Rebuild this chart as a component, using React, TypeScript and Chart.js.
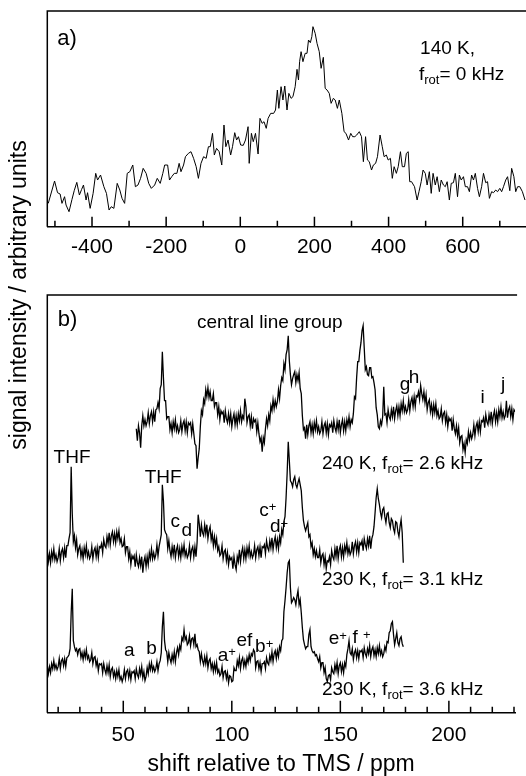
import React, { useEffect, useRef } from 'react';
import { Chart, registerables } from 'chart.js';

Chart.register(...registerables);

// ---------- panel a : 140 K, static ----------
const shiftA = [
  -518, -501, -493, -486, -481, -474, -470, -462, -454, -448,
  -441, -434, -428, -423, -416, -412, -405, -397, -390, -385,
  -377, -368, -361, -354, -348, -341, -332, -325, -319, -312,
  -305, -298, -290, -283, -276, -269, -262, -254, -247, -240,
  -231, -224, -216, -209, -204, -196, -191, -185, -178, -171,
  -165, -160, -153, -148, -140, -133, -126, -119, -113, -106,
  -99, -92, -86, -81, -75, -70, -64, -57, -50, -44,
  -39, -33, -26, -21, -15, -10, -5, 1, 8, 14,
  21, 24, 30, 35, 41, 48, 53, 59, 64, 70,
  75, 82, 90, 95, 100, 104, 110, 115, 120, 126,
  131, 137, 142, 148, 153, 157, 160, 164, 169, 175,
  180, 184, 189, 193, 196, 202, 207, 213, 218, 224,
  229, 234, 240, 245, 251, 256, 262, 267, 274, 280,
  285, 292, 298, 303, 309, 314, 321, 327, 332, 338,
  343, 348, 354, 359, 365, 370, 377, 383, 388, 394,
  399, 405, 410, 415, 421, 426, 432, 437, 443, 448,
  453, 457, 462, 470, 477, 482, 488, 493, 499, 504,
  510, 515, 520, 526, 531, 537, 542, 548, 553, 558,
  564, 569, 575, 580, 586, 591, 596, 602, 607, 613,
  618, 624, 629, 634, 640, 645, 651, 656, 662, 667,
  672, 678, 683, 689, 694, 700, 705, 710, 716, 721,
  727, 732, 738, 743, 748, 754, 761, 768,
];
const intensityA = [
  70, 137, 102, 98, 70, 90, 65, 45, 82, 108,
  133, 95, 112, 125, 80, 102, 55, 100, 160, 140,
  155, 120, 100, 50, 60, 55, 130, 110, 85, 70,
  160, 165, 185, 120, 125, 145, 175, 160, 130, 115,
  125, 145, 130, 160, 185, 185, 140, 150, 160, 160,
  190, 165, 185, 210, 220, 225, 205, 180, 145, 190,
  210, 205, 240, 240, 280, 215, 235, 225, 185, 305,
  240, 260, 215, 240, 282, 260, 270, 245, 244, 260,
  300, 190, 280, 255, 280, 218, 325, 310, 315, 295,
  325, 340, 340, 350, 410, 355, 420, 380, 422, 350,
  400, 385, 390, 420, 472, 440, 495, 525, 495, 520,
  520, 560, 552, 570, 600, 580, 550, 525, 475, 508,
  415, 410, 400, 370, 385, 380, 355, 380, 340, 285,
  280, 260, 280, 270, 270, 275, 285, 270, 195, 270,
  200, 195, 170, 185, 190, 210, 275, 240, 210, 215,
  200, 205, 145, 180, 160, 180, 225, 180, 180, 220,
  225, 135, 135, 120, 80, 105, 135, 170, 160, 125,
  165, 100, 160, 125, 150, 105, 140, 125, 120, 135,
  80, 130, 132, 160, 90, 155, 140, 150, 120, 120,
  105, 155, 140, 160, 115, 90, 120, 160, 132, 135,
  85, 105, 102, 110, 105, 115, 105, 120, 140, 150,
  108, 175, 150, 105, 120, 120, 105, 80,
];
const ticksA = [-500, -400, -300, -200, -100, 0, 100, 200, 300, 400, 500, 600, 700];
const labelsA = [-400, -200, 0, 200, 400, 600];

// ---------- panel b : MAS spectra (0.5 ppm sampling) ----------
const shiftB = [
  15, 15.5, 16, 16.5, 17, 17.5, 18, 18.5, 19, 19.5,
  20, 20.5, 21, 21.5, 22, 22.5, 23, 23.5, 24, 24.5,
  25, 25.5, 26, 26.5, 27, 27.5, 28, 28.5, 29, 29.5,
  30, 30.5, 31, 31.5, 32, 32.5, 33, 33.5, 34, 34.5,
  35, 35.5, 36, 36.5, 37, 37.5, 38, 38.5, 39, 39.5,
  40, 40.5, 41, 41.5, 42, 42.5, 43, 43.5, 44, 44.5,
  45, 45.5, 46, 46.5, 47, 47.5, 48, 48.5, 49, 49.5,
  50, 50.5, 51, 51.5, 52, 52.5, 53, 53.5, 54, 54.5,
  55, 55.5, 56, 56.5, 57, 57.5, 58, 58.5, 59, 59.5,
  60, 60.5, 61, 61.5, 62, 62.5, 63, 63.5, 64, 64.5,
  65, 65.5, 66, 66.5, 67, 67.5, 68, 68.5, 69, 69.5,
  70, 70.5, 71, 71.5, 72, 72.5, 73, 73.5, 74, 74.5,
  75, 75.5, 76, 76.5, 77, 77.5, 78, 78.5, 79, 79.5,
  80, 80.5, 81, 81.5, 82, 82.5, 83, 83.5, 84, 84.5,
  85, 85.5, 86, 86.5, 87, 87.5, 88, 88.5, 89, 89.5,
  90, 90.5, 91, 91.5, 92, 92.5, 93, 93.5, 94, 94.5,
  95, 95.5, 96, 96.5, 97, 97.5, 98, 98.5, 99, 99.5,
  100, 100.5, 101, 101.5, 102, 102.5, 103, 103.5, 104, 104.5,
  105, 105.5, 106, 106.5, 107, 107.5, 108, 108.5, 109, 109.5,
  110, 110.5, 111, 111.5, 112, 112.5, 113, 113.5, 114, 114.5,
  115, 115.5, 116, 116.5, 117, 117.5, 118, 118.5, 119, 119.5,
  120, 120.5, 121, 121.5, 122, 122.5, 123, 123.5, 124, 124.5,
  125, 125.5, 126, 126.5, 127, 127.5, 128, 128.5, 129, 129.5,
  130, 130.5, 131, 131.5, 132, 132.5, 133, 133.5, 134, 134.5,
  135, 135.5, 136, 136.5, 137, 137.5, 138, 138.5, 139, 139.5,
  140, 140.5, 141, 141.5, 142, 142.5, 143, 143.5, 144, 144.5,
  145, 145.5, 146, 146.5, 147, 147.5, 148, 148.5, 149, 149.5,
  150, 150.5, 151, 151.5, 152, 152.5, 153, 153.5, 154, 154.5,
  155, 155.5, 156, 156.5, 157, 157.5, 158, 158.5, 159, 159.5,
  160, 160.5, 161, 161.5, 162, 162.5, 163, 163.5, 164, 164.5,
  165, 165.5, 166, 166.5, 167, 167.5, 168, 168.5, 169, 169.5,
  170, 170.5, 171, 171.5, 172, 172.5, 173, 173.5, 174, 174.5,
  175, 175.5, 176, 176.5, 177, 177.5, 178, 178.5, 179, 179.5,
  180, 180.5, 181, 181.5, 182, 182.5, 183, 183.5, 184, 184.5,
  185, 185.5, 186, 186.5, 187, 187.5, 188, 188.5, 189, 189.5,
  190, 190.5, 191, 191.5, 192, 192.5, 193, 193.5, 194, 194.5,
  195, 195.5, 196, 196.5, 197, 197.5, 198, 198.5, 199, 199.5,
  200, 200.5, 201, 201.5, 202, 202.5, 203, 203.5, 204, 204.5,
  205, 205.5, 206, 206.5, 207, 207.5, 208, 208.5, 209, 209.5,
  210, 210.5, 211, 211.5, 212, 212.5, 213, 213.5, 214, 214.5,
  215, 215.5, 216, 216.5, 217, 217.5, 218, 218.5, 219, 219.5,
  220, 220.5, 221, 221.5, 222, 222.5, 223, 223.5, 224, 224.5,
  225, 225.5, 226, 226.5, 227, 227.5, 228, 228.5, 229, 229.5,
  230, 230.5, 231,
];
const startTop = 56; // first shift of the 240 K trace; the 230 K traces start at 15
const trace240K = [
  284, 272, 287, 280, 265, 287, 297, 287, 293, 287,
  291, 300, 289, 297, 301, 291, 301, 291, 303, 304,
  310, 304, 324, 328, 361, 335, 312, 312, 294, 296,
  296, 283, 289, 280, 291, 284, 293, 282, 287, 280,
  283, 292, 281, 289, 292, 282, 291, 280, 290, 288,
  290, 279, 289, 279, 269, 267, 244, 255, 264, 286,
  302, 298, 313, 309, 323, 316, 325, 315, 321, 312,
  312, 319, 306, 310, 310, 298, 306, 293, 302, 299,
  301, 290, 302, 294, 290, 299, 290, 299, 286, 294,
  299, 288, 297, 288, 299, 292, 302, 291, 297, 294,
  314, 306, 290, 296, 298, 287, 296, 284, 294, 291,
  293, 281, 290, 279, 271, 275, 261, 275, 270, 284,
  294, 287, 298, 292, 307, 302, 313, 304, 312, 306,
  311, 323, 314, 327, 335, 332, 349, 343, 358, 363,
  377, 352, 338, 328, 334, 338, 341, 330, 338, 332,
  340, 324, 319, 297, 283, 285, 274, 288, 278, 287,
  291, 280, 288, 279, 290, 283, 292, 281, 286, 279,
  282, 291, 279, 287, 290, 280, 289, 278, 288, 286,
  290, 280, 292, 285, 281, 291, 283, 293, 280, 288,
  293, 282, 291, 282, 293, 287, 296, 286, 293, 290,
  299, 316, 314, 335, 351, 351, 362, 370, 382, 387,
  365, 343, 346, 338, 337, 345, 345, 335, 336, 330,
  323, 305, 298, 286, 284, 292, 288, 296, 326, 298,
  299, 290, 303, 296, 293, 303, 296, 306, 294, 302,
  307, 297, 306, 297, 309, 302, 312, 301, 306, 300,
  303, 313, 302, 311, 315, 306, 316, 306, 317, 316,
  321, 313, 327, 319, 313, 321, 310, 318, 303, 310,
  313, 301, 308, 298, 308, 300, 309, 297, 302, 294,
  296, 304, 292, 299, 301, 290, 298, 286, 295, 292,
  294, 282, 293, 284, 279, 287, 277, 285, 270, 276,
  277, 263, 269, 260, 273, 269, 281, 273, 280, 274,
  278, 288, 277, 286, 290, 281, 291, 281, 292, 291,
  295, 285, 298, 291, 288, 298, 291, 301, 289, 297,
  302, 291, 300, 291, 303, 296, 306, 295, 301, 294,
  297, 312, 295, 303, 306, 296, 304, 293, 303, 301,
  298,
];
const trace230K31 = [
  162, 151, 159, 150, 161, 154, 164, 153, 158, 151,
  155, 164, 152, 161, 164, 155, 165, 155, 167, 167,
  174, 180, 246, 199, 171, 177, 165, 173, 158, 164,
  167, 156, 163, 154, 165, 158, 167, 156, 161, 154,
  157, 166, 154, 162, 165, 156, 165, 155, 166, 165,
  169, 160, 173, 167, 165, 176, 169, 180, 168, 177,
  181, 171, 179, 170, 181, 174, 182, 170, 174, 166,
  167, 174, 160, 166, 166, 154, 161, 148, 157, 154,
  157, 146, 158, 150, 146, 155, 147, 156, 140, 151,
  156, 146, 156, 148, 160, 154, 164, 154, 160, 154,
  158, 168, 157, 166, 172, 178, 228, 212, 183, 180,
  178, 164, 172, 162, 156, 166, 158, 168, 155, 163,
  167, 156, 164, 155, 166, 159, 168, 157, 162, 155,
  158, 167, 155, 163, 166, 156, 166, 156, 170, 198,
  189, 176, 188, 180, 177, 188, 179, 188, 174, 182,
  186, 173, 179, 167, 176, 167, 174, 162, 166, 157,
  159, 167, 154, 161, 163, 152, 160, 148, 156, 153,
  155, 144, 156, 148, 143, 156, 151, 163, 151, 160,
  165, 154, 163, 154, 165, 158, 167, 156, 161, 155,
  158, 167, 155, 163, 166, 157, 166, 155, 166, 165,
  168, 159, 172, 165, 162, 172, 165, 175, 163, 171,
  176, 165, 173, 164, 176, 170, 183, 178, 191, 196,
  215, 240, 271, 252, 232, 230, 226, 233, 236, 228,
  225, 230, 234, 228, 222, 205, 192, 186, 182, 186,
  190, 176, 178, 166, 170, 158, 164, 156, 162, 155,
  155, 163, 150, 157, 159, 148, 156, 144, 152, 151,
  156, 148, 162, 156, 153, 164, 156, 167, 154, 163,
  167, 156, 165, 156, 167, 161, 170, 159, 165, 158,
  161, 171, 159, 167, 171, 161, 170, 160, 170, 168,
  172, 162, 174, 168, 164, 174, 167, 177, 164, 174,
  178, 186, 200, 215, 224, 214, 208, 200, 195, 203,
  205, 196, 190, 199, 200, 190, 185, 194, 192, 184,
  180, 191, 190, 181, 176, 186, 193, 180, 150,
];
const trace230K36 = [
  47, 39, 46, 40, 49, 44, 52, 44, 48, 43,
  46, 54, 44, 52, 54, 47, 54, 46, 55, 56,
  58, 64, 100, 124, 72, 66, 62, 64, 58, 63,
  64, 55, 60, 53, 61, 55, 63, 54, 57, 51,
  53, 60, 49, 55, 56, 47, 52, 42, 49, 48,
  49, 40, 49, 43, 39, 47, 40, 48, 36, 43,
  45, 36, 41, 34, 42, 36, 43, 33, 36, 31,
  35, 43, 34, 41, 43, 35, 42, 33, 41, 40,
  42, 34, 44, 38, 35, 44, 38, 46, 35, 41,
  32, 36, 45, 39, 49, 43, 50, 42, 46, 41,
  44, 51, 42, 49, 52, 60, 86, 101, 72, 63,
  61, 51, 60, 54, 50, 58, 52, 61, 51, 60,
  65, 58, 67, 63, 75, 72, 83, 73, 76, 68,
  70, 77, 67, 74, 75, 68, 79, 66, 68, 63,
  61, 51, 59, 52, 48, 56, 49, 57, 45, 52,
  54, 44, 49, 41, 49, 42, 50, 40, 43, 37,
  39, 46, 35, 41, 42, 34, 40, 30, 37, 36,
  31, 32, 45, 42, 42, 52, 47, 55, 44, 52,
  55, 46, 52, 46, 55, 50, 58, 52, 59, 57,
  63, 61, 45, 51, 52, 44, 50, 41, 49, 49,
  51, 44, 55, 50, 48, 57, 52, 61, 51, 59,
  62, 54, 62, 56, 66, 62, 72, 74, 101, 112,
  125, 140, 150, 152, 125, 110, 112, 115, 113, 108,
  116, 122, 108, 113, 100, 85, 73, 68, 64, 66,
  66, 78, 83, 66, 62, 60, 61, 57, 58, 54,
  51, 56, 45, 50, 50, 40, 45, 34, 31, 37,
  38, 33, 45, 41, 39, 48, 42, 50, 39, 47,
  50, 41, 48, 40, 50, 46, 58, 64, 72, 60,
  58, 64, 53, 60, 63, 55, 62, 54, 62, 61,
  63, 55, 65, 59, 56, 64, 59, 67, 56, 63,
  66, 57, 63, 56, 65, 59, 67, 58, 62, 56,
  59, 66, 62, 71, 70, 80, 82, 89, 91, 78,
  68, 74, 80, 70, 67, 74, 76, 69, 66,
];
const ticksB = [20, 30, 40, 50, 60, 70, 80, 90, 100, 110, 120, 130, 140, 150, 160, 170, 180, 190, 200, 210, 220, 230];
const labelsB = [50, 100, 150, 200];

// ---------- texts ----------
type Seg = { t: string; s?: 'sub' | 'sup' };
type Note = { segs: Seg[]; x: number; y: number; align: 'left' | 'center'; size: number };

const notesA: Note[] = [
  { segs: [{ t: 'a)' }], x: -494, y: 546, align: 'left', size: 22 },
  { segs: [{ t: '140 K,' }], x: 485, y: 518, align: 'left', size: 19 },
  { segs: [{ t: 'f' }, { t: 'rot', s: 'sub' }, { t: '= 0 kHz' }], x: 482, y: 440, align: 'left', size: 19 },
];
const notesB: Note[] = [
  { segs: [{ t: 'b)' }], x: 19.8, y: 386.7, align: 'left', size: 22 },
  { segs: [{ t: 'central line group' }], x: 117.5, y: 384.7, align: 'center', size: 19 },
  { segs: [{ t: '240 K, f' }, { t: 'rot', s: 'sub' }, { t: '= 2.6 kHz' }], x: 141.5, y: 243.7, align: 'left', size: 19 },
  { segs: [{ t: 'THF' }], x: 26.4, y: 249.4, align: 'center', size: 19 },
  { segs: [{ t: 'THF' }], x: 68.4, y: 229.4, align: 'center', size: 19 },
  { segs: [{ t: 'g' }], x: 179.8, y: 322.7, align: 'center', size: 19 },
  { segs: [{ t: 'h' }], x: 183.9, y: 330, align: 'center', size: 19 },
  { segs: [{ t: 'i' }], x: 215.5, y: 309.4, align: 'center', size: 19 },
  { segs: [{ t: 'j' }], x: 225, y: 322.4, align: 'center', size: 19 },
  { segs: [{ t: 'c' }], x: 74, y: 186, align: 'center', size: 19 },
  { segs: [{ t: 'd' }], x: 79.3, y: 176.7, align: 'center', size: 19 },
  { segs: [{ t: 'c' }, { t: '+', s: 'sup' }], x: 116.6, y: 196.7, align: 'center', size: 19 },
  { segs: [{ t: 'd' }, { t: '+', s: 'sup' }], x: 121.8, y: 180.4, align: 'center', size: 19 },
  { segs: [{ t: '230 K, f' }, { t: 'rot', s: 'sub' }, { t: '= 3.1 kHz' }], x: 141.5, y: 127.7, align: 'left', size: 19 },
  { segs: [{ t: 'a' }], x: 52.8, y: 57, align: 'center', size: 19 },
  { segs: [{ t: 'b' }], x: 63, y: 58.7, align: 'center', size: 19 },
  { segs: [{ t: 'a' }, { t: '+', s: 'sup' }], x: 97.7, y: 51.7, align: 'center', size: 19 },
  { segs: [{ t: 'ef' }], x: 105.8, y: 67, align: 'center', size: 19 },
  { segs: [{ t: 'b' }, { t: '+', s: 'sup' }], x: 114.9, y: 60.4, align: 'center', size: 19 },
  { segs: [{ t: 'e' }, { t: '+', s: 'sup' }], x: 148.8, y: 68.4, align: 'center', size: 19 },
  { segs: [{ t: 'f ' }, { t: '+', s: 'sup' }], x: 159.8, y: 69.4, align: 'center', size: 19 },
  { segs: [{ t: '230 K, f' }, { t: 'rot', s: 'sub' }, { t: '= 3.6 kHz' }], x: 141.5, y: 17.7, align: 'left', size: 19 },
];
const xTitleB = 'shift relative to TMS / ppm';
const yTitle = 'signal intensity / arbitrary units';

const FAMILY = "'Liberation Sans', Arial, Helvetica, sans-serif";

function drawNote(chart: any, n: Note) {
  const ctx = chart.ctx as CanvasRenderingContext2D;
  const px = chart.scales.x.getPixelForValue(n.x);
  const py = chart.scales.y.getPixelForValue(n.y);
  const fontFor = (s: Seg) => `${s.s ? Math.round(n.size * 0.7) : n.size}px ${FAMILY}`;
  let total = 0;
  for (const s of n.segs) {
    ctx.font = fontFor(s);
    total += ctx.measureText(s.t).width;
  }
  let cx = n.align === 'center' ? px - total / 2 : px;
  ctx.fillStyle = '#000';
  ctx.textAlign = 'left';
  ctx.textBaseline = 'alphabetic';
  for (const s of n.segs) {
    ctx.font = fontFor(s);
    const dy = s.s === 'sub' ? n.size * 0.2 : s.s === 'sup' ? -n.size * 0.25 : 0;
    ctx.fillText(s.t, cx, py + dy);
    cx += ctx.measureText(s.t).width;
  }
}

function framePlugin(majors: number[], majorLen: number, minorLen: number, notes: Note[], withYTitle: boolean) {
  return {
    id: 'frameAndNotes',
    afterDatasetsDraw(chart: any) {
      const ctx = chart.ctx as CanvasRenderingContext2D;
      const a = chart.chartArea;
      const xs = chart.scales.x;
      ctx.save();
      ctx.strokeStyle = '#000';
      ctx.lineWidth = 1.5;
      ctx.beginPath();
      ctx.moveTo(a.left, a.bottom);
      ctx.lineTo(a.left, a.top);
      ctx.lineTo(a.right + 2, a.top);
      ctx.stroke();
      ctx.beginPath();
      for (const t of xs.ticks) {
        const px = xs.getPixelForValue(t.value);
        const len = majors.includes(t.value) ? majorLen : minorLen;
        ctx.moveTo(px, a.bottom);
        ctx.lineTo(px, a.bottom - len);
      }
      ctx.stroke();
      for (const n of notes) drawNote(chart, n);
      if (withYTitle) {
        ctx.translate(26, 295);
        ctx.rotate(-Math.PI / 2);
        ctx.font = `23px ${FAMILY}`;
        ctx.textAlign = 'center';
        ctx.textBaseline = 'alphabetic';
        ctx.fillStyle = '#000';
        ctx.fillText(yTitle, 0, 0);
      }
      ctx.restore();
    },
  };
}

export default function App() {
  const refA = useRef<HTMLCanvasElement>(null);
  const refB = useRef<HTMLCanvasElement>(null);

  useEffect(() => {
    document.body.style.margin = '0';

    const lineDs = (pts: { x: number; y: number }[], w: number) => ({
      data: pts,
      borderColor: '#000',
      borderWidth: w,
      pointRadius: 0,
      tension: 0,
      fill: false,
    });

    const ptsA = shiftA.map((x, i) => ({ x, y: intensityA[i] }));
    const i0 = shiftB.indexOf(startTop);
    const ptsTop = trace240K.map((y, i) => ({ x: shiftB[i0 + i], y }));
    const ptsMid = trace230K31.map((y, i) => ({ x: shiftB[i], y }));
    const ptsBot = trace230K36.map((y, i) => ({ x: shiftB[i], y }));

    const chartA = new Chart(refA.current as HTMLCanvasElement, {
      type: 'line',
      data: { datasets: [lineDs(ptsA, 1)] },
      options: {
        animation: false,
        responsive: false,
        devicePixelRatio: 1,
        events: [],
        layout: { padding: { left: 47.3, top: 11, right: 0, bottom: 776 - 226.7 - 40 } },
        plugins: { legend: { display: false }, tooltip: { enabled: false } },
        scales: {
          x: {
            type: 'linear',
            min: -520.6,
            max: 770.7,
            afterBuildTicks: (s: any) => {
              s.ticks = ticksA.map((v) => ({ value: v }));
            },
            afterFit: (s: any) => {
              s.height = 40;
            },
            grid: { display: true, drawOnChartArea: false, drawTicks: false },
            border: { display: true, color: '#000', width: 1.5 },
            ticks: {
              autoSkip: false,
              maxRotation: 0,
              minRotation: 0,
              padding: 10,
              color: '#000',
              font: { family: FAMILY, size: 21, lineHeight: 1 },
              callback: (v: any) => (labelsA.includes(Number(v)) ? String(v) : ''),
            },
          },
          y: { display: false, min: 0, max: 647 },
        },
      } as any,
      plugins: [framePlugin(labelsA, 10, 6, notesA, false)],
    });

    const chartB = new Chart(refB.current as HTMLCanvasElement, {
      type: 'line',
      data: { datasets: [lineDs(ptsTop, 1.3), lineDs(ptsMid, 1.3), lineDs(ptsBot, 1.3)] },
      options: {
        animation: false,
        responsive: false,
        devicePixelRatio: 1,
        events: [],
        layout: { padding: { left: 47.3, top: 295, right: 0, bottom: 0 } },
        plugins: { legend: { display: false }, tooltip: { enabled: false } },
        scales: {
          x: {
            type: 'linear',
            min: 15,
            max: 230.5,
            afterBuildTicks: (s: any) => {
              s.ticks = ticksB.map((v) => ({ value: v }));
            },
            afterFit: (s: any) => {
              s.height = 776 - 712.7;
            },
            grid: { display: true, drawOnChartArea: false, drawTicks: false },
            border: { display: true, color: '#000', width: 1.5 },
            title: {
              display: true,
              text: xTitleB,
              color: '#000',
              font: { family: FAMILY, size: 23, lineHeight: 1 },
              padding: { top: 0, bottom: 0 },
            },
            ticks: {
              autoSkip: false,
              maxRotation: 0,
              minRotation: 0,
              padding: 12,
              color: '#000',
              font: { family: FAMILY, size: 21, lineHeight: 1 },
              callback: (v: any) => (labelsB.includes(Number(v)) ? String(v) : ''),
            },
          },
          y: { display: false, min: 0, max: 417.7 },
        },
      } as any,
      plugins: [framePlugin(labelsB, 12, 6, notesB, true)],
    });

    return () => {
      chartA.destroy();
      chartB.destroy();
    };
  }, []);

  return (
    <div style={{ position: 'relative', width: 526, height: 776, background: '#fff', overflow: 'hidden' }}>
      <canvas ref={refA} width={526} height={776} style={{ position: 'absolute', left: 0, top: 0 }} />
      <canvas ref={refB} width={526} height={776} style={{ position: 'absolute', left: 0, top: 0 }} />
    </div>
  );
}
